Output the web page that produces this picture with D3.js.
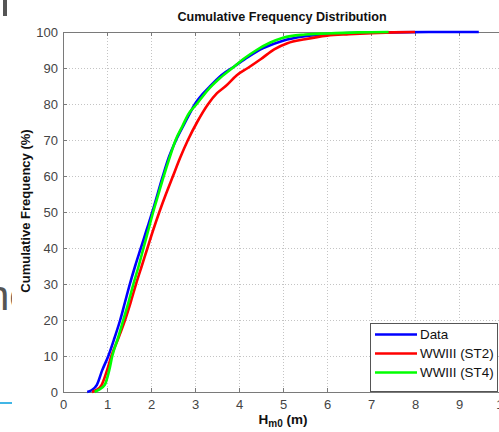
<!DOCTYPE html>
<html>
  <head>
    <meta charset="utf-8">
    <title>Cumulative Frequency Distribution</title>
    <script src="https://d3js.org/d3.v7.min.js"></script>
    <style>
      body { margin: 0; background: #fff; }
      svg { display: block; font-family: Arial, "Liberation Sans", sans-serif; }
      .grid line { stroke: #c4c4c4; stroke-dasharray: 1,2; }
      .tick text { fill: #444; font-size: 13px; }
    </style>
  </head>
  <body>
    <svg id="chart" width="499" height="432"></svg>
    <script>
      // chart values (Hm0 in m, cumulative %)
      const xTicks = [0, 1, 2, 3, 4, 5, 6, 7, 8, 9, 10];
      const yTicks = [0, 10, 20, 30, 40, 50, 60, 70, 80, 90, 100];
      const seriesNames = ["Data", "WWIII (ST2)", "WWIII (ST4)"];
      const seriesColors = ["#0000ff", "#ff0000", "#00ff00"];
      const dataH = [0.55, 0.65, 0.77, 0.89, 1.03, 1.17, 1.30, 1.41, 1.52, 1.64, 1.77, 1.90, 2.03, 2.15, 2.27, 2.40, 2.57, 2.78, 3.00, 3.35, 3.60, 3.90, 4.20, 4.55, 5.00, 5.50, 6.00, 6.50, 7.50, 8.50, 9.45];
      const dataP = [0, 0.5, 2, 6, 10, 15, 20, 25, 30, 35, 40, 45, 50, 55, 60, 65, 70, 75, 80, 85, 88, 90.5, 93, 95.5, 97.6, 98.8, 99.4, 99.7, 99.9, 100, 100];
      const st2H = [0.66, 0.75, 0.88, 1.00, 1.10, 1.26, 1.41, 1.54, 1.66, 1.79, 1.92, 2.05, 2.19, 2.34, 2.50, 2.66, 2.84, 3.05, 3.30, 3.50, 3.70, 3.95, 4.20, 4.50, 4.80, 5.10, 5.50, 6.00, 6.50, 7.00, 7.50, 8.00];
      const st2P = [0, 0.5, 2, 6, 10, 15, 20, 25, 30, 35, 40, 45, 50, 55, 60, 65, 70, 75, 80, 83, 85, 88, 90, 92.5, 95.2, 96.9, 98, 99, 99.4, 99.7, 99.9, 100];
      const st4H = [0.72, 0.80, 0.95, 1.05, 1.12, 1.25, 1.37, 1.49, 1.60, 1.72, 1.83, 1.94, 2.05, 2.17, 2.29, 2.42, 2.56, 2.72, 2.84, 3.04, 3.30, 3.55, 3.85, 4.10, 4.40, 4.70, 5.00, 5.50, 6.00, 6.70, 7.40];
      const st4P = [0, 0.5, 2, 6, 10, 15, 20, 25, 30, 35, 40, 45, 50, 55, 60, 65, 70, 74, 77, 80, 84, 87, 90, 92.5, 95, 97, 98.4, 99.3, 99.6, 99.9, 100];

      const series = [
        { name: seriesNames[0], color: seriesColors[0], values: d3.zip(dataH, dataP) },
        { name: seriesNames[1], color: seriesColors[1], values: d3.zip(st2H, st2P) },
        { name: seriesNames[2], color: seriesColors[2], values: d3.zip(st4H, st4P) }
      ];

      const svg = d3.select("#chart");
      const plotL = 63, plotR = 503, plotT = 32, plotB = 392;

      const x = d3.scaleLinear().domain([0, 10]).range([plotL, plotR]);
      const y = d3.scaleLinear().domain([0, 100]).range([plotB, plotT]);

      // slide leftovers round the picture
      svg.append("rect").attr("x", 3).attr("y", 0).attr("width", 4).attr("height", 16).attr("fill", "#555");
      svg.append("clipPath").attr("id", "leftClip")
        .append("rect").attr("x", 0).attr("y", 270).attr("width", 12).attr("height", 60);
      svg.append("text")
        .attr("x", -14).attr("y", 310)
        .attr("clip-path", "url(#leftClip)")
        .style("font-size", "42px").style("fill", "#555")
        .text("nc");
      svg.append("rect").attr("x", 0).attr("y", 402).attr("width", 12).attr("height", 2).attr("fill", "#41b6e6");

      // grid
      const grid = svg.append("g").classed("grid", true);
      grid.selectAll("line.v")
          .data(xTicks.filter(function(d) { return d > 0; }))
        .enter().append("line")
          .attr("class", "v")
          .attr("x1", function(d) { return x(d) + 0.5; })
          .attr("x2", function(d) { return x(d) + 0.5; })
          .attr("y1", plotT).attr("y2", plotB);
      grid.selectAll("line.h")
          .data(yTicks.filter(function(d) { return d > 0 && d < 100; }))
        .enter().append("line")
          .attr("class", "h")
          .attr("y1", function(d) { return y(d) + 0.5; })
          .attr("y2", function(d) { return y(d) + 0.5; })
          .attr("x1", plotL).attr("x2", plotR);

      // axes
      svg.append("g")
        .attr("transform", "translate(0," + plotB + ")")
        .call(d3.axisBottom(x).tickValues(xTicks).tickSizeInner(-4).tickSizeOuter(0).tickPadding(8));
      svg.append("g")
        .attr("transform", "translate(0," + plotT + ")")
        .call(d3.axisTop(x).tickValues(xTicks).tickSizeInner(-4).tickSizeOuter(0).tickFormat(""));
      svg.append("g")
        .attr("transform", "translate(" + plotL + ",0)")
        .call(d3.axisLeft(y).tickValues(yTicks).tickSizeInner(-4).tickSizeOuter(0).tickPadding(5));
      svg.selectAll(".domain, .tick line").attr("stroke", "#7a7a7a");

      // curves
      const line = d3.line()
        .x(function(d) { return x(d[0]); })
        .y(function(d) { return y(d[1]); })
        .curve(d3.curveMonotoneX);
      svg.append("g")
        .selectAll(".curve")
          .data(series)
        .enter().append("path")
          .classed("curve", true)
          .attr("fill", "none")
          .attr("stroke", function(d) { return d.color; })
          .attr("stroke-width", 2.6)
          .attr("stroke-linejoin", "round")
          .attr("d", function(d) { return line(d.values); });

      // titles
      svg.append("text")
        .attr("x", 282).attr("y", 21)
        .attr("text-anchor", "middle")
        .style("font-size", "12.6px").style("font-weight", "bold").style("fill", "#111")
        .text("Cumulative Frequency Distribution");
      svg.append("text")
        .attr("transform", "translate(30,211) rotate(-90)")
        .attr("text-anchor", "middle")
        .style("font-size", "13px").style("font-weight", "bold").style("fill", "#111")
        .text("Cumulative Frequency (%)");
      const xLabel = svg.append("text")
        .attr("x", 283).attr("y", 424)
        .attr("text-anchor", "middle")
        .style("font-size", "13.5px").style("font-weight", "bold").style("fill", "#111");
      xLabel.append("tspan").text("H");
      xLabel.append("tspan").attr("dy", 3).style("font-size", "10px").text("m0");
      xLabel.append("tspan").attr("dy", -3).text(" (m)");

      // legend
      const legend = svg.append("g");
      legend.append("rect")
        .attr("x", 370.5).attr("y", 323.5).attr("width", 127).attr("height", 68)
        .attr("fill", "#fff").attr("stroke", "#555");
      const rows = legend.selectAll(".row")
          .data(series)
        .enter().append("g")
          .attr("transform", function(d, i) { return "translate(0," + (334.5 + i * 19) + ")"; });
      rows.append("line")
        .attr("x1", 375).attr("x2", 417)
        .attr("stroke", function(d) { return d.color; })
        .attr("stroke-width", 2.6);
      rows.append("text")
        .attr("x", 420).attr("dy", "0.35em")
        .style("font-size", "13.4px").style("fill", "#111")
        .text(function(d) { return d.name; });
    </script>
  </body>
</html>
